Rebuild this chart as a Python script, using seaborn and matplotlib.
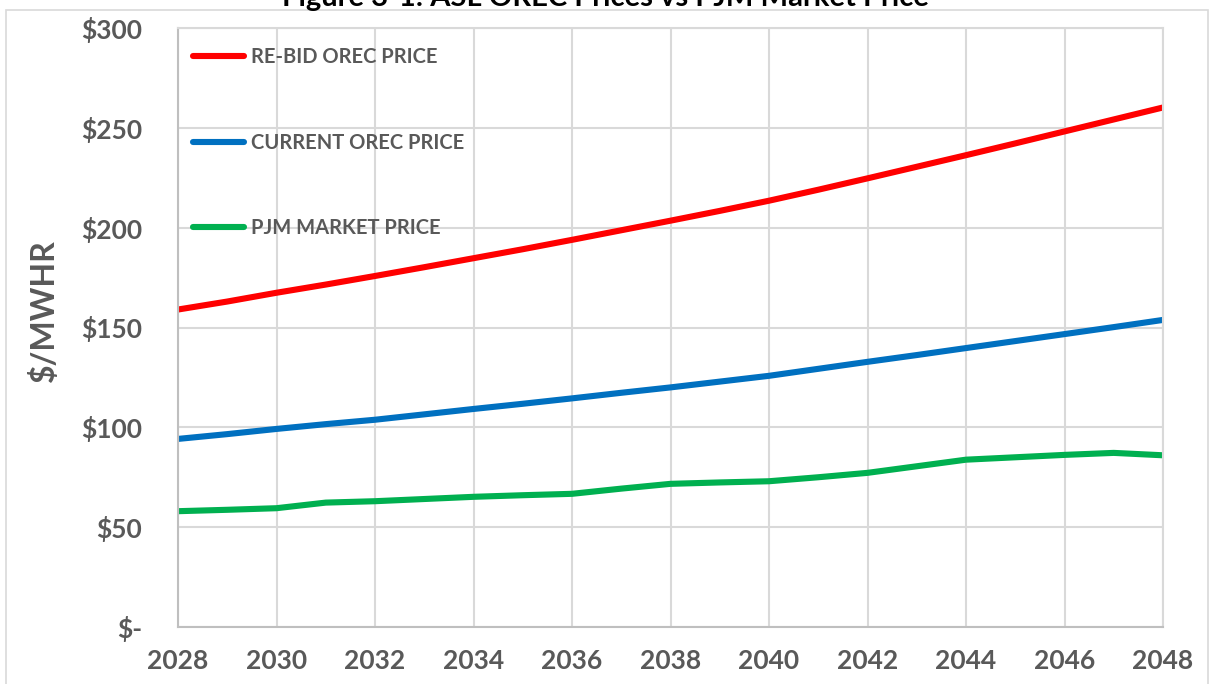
import pandas as pd
import seaborn as sns
import matplotlib.pyplot as plt
from matplotlib.patches import Rectangle

years = list(range(2028, 2049))
rebid = [159.0, 163.0, 167.4, 171.5, 175.8, 180.2, 184.7, 189.2, 193.9, 198.7, 203.5,
         208.4, 213.5, 219.0, 224.7, 230.5, 236.3, 242.2, 248.2, 254.2, 260.2]
current = [94.2, 96.6, 99.2, 101.6, 103.8, 106.5, 109.2, 111.8, 114.5, 117.3, 120.0,
           122.9, 125.8, 129.3, 132.8, 136.2, 139.7, 143.2, 146.7, 150.2, 153.8]
pjm = [58.0, 58.7, 59.5, 62.3, 63.0, 64.1, 65.2, 66.0, 66.7, 69.3, 71.7,
       72.4, 73.0, 75.0, 77.2, 80.5, 83.8, 85.0, 86.2, 87.2, 86.0]
series_names = ["RE-BID OREC PRICE", "CURRENT OREC PRICE", "PJM MARKET PRICE"]
series_colors = ["#FF0000", "#0070C0", "#00B050"]

df = pd.DataFrame({"Year": years, series_names[0]: rebid,
                   series_names[1]: current, series_names[2]: pjm})
long = df.melt(id_vars="Year", var_name="Series", value_name="Price")

sns.set_style("white")
plt.rcParams['font.family'] = ['Lato', 'DejaVu Sans']
txt = "#595959"

fig = plt.figure(figsize=(12.12, 6.84), dpi=100)
ax = fig.add_axes([178/1212, 1-627/684, (1163-178)/1212, (627-28)/684])

# outer chart frame like Excel
fig.patches.append(Rectangle((6/1212, -0.05), 1202/1212, 1.05 - 10/684,
                             transform=fig.transFigure, fill=False,
                             edgecolor="#d9d9d9", linewidth=1.2))

sns.lineplot(data=long, x="Year", y="Price", hue="Series", hue_order=series_names,
             palette=series_colors, linewidth=4.4, ax=ax, solid_capstyle='butt')

ax.set_xlim(2028, 2048)
ax.set_ylim(0, 300)
ax.set_xticks(range(2028, 2049, 2))
ax.set_yticks(range(0, 301, 50))
ax.set_yticklabels(["$-"] + [f"${v}" for v in range(50, 301, 50)])
ax.grid(True, color="#d9d9d9", linewidth=1.5)
ax.set_axisbelow(True)
for s in ax.spines.values():
    s.set_color("#d9d9d9")
    s.set_linewidth(1.5)
ax.spines['left'].set_color("#bfbfbf")
ax.spines['bottom'].set_color("#bfbfbf")
ax.tick_params(axis='both', length=0, labelsize=19, labelcolor=txt)
ax.tick_params(axis='y', pad=26)
ax.tick_params(axis='x', pad=16)
for lab in ax.get_xticklabels() + ax.get_yticklabels():
    lab.set_fontweight('bold')

ax.set_xlabel("")
ax.set_ylabel("")
fig.text(44/1212, 1-311/684, "$/MWHR", rotation=90, ha='center', va='center',
         fontsize=23, fontweight='bold', color=txt)

fig.text(605/1212, 1-6/684, "Figure 3-1: ASL OREC Prices vs PJM Market Price",
         ha='center', va='baseline', fontsize=21, fontweight='bold', color='black')

handles, labels = ax.get_legend_handles_labels()
leg = ax.legend(handles, labels, loc='upper left', bbox_to_anchor=(0.007, 0.981),
                frameon=False, fontsize=14.5, labelspacing=3.25, handlelength=2.55,
                handletextpad=0.35, borderaxespad=0)
for t in leg.get_texts():
    t.set_color(txt)
    t.set_fontweight('bold')
for h in leg.get_lines():
    h.set_linewidth(4.4)
    h.set_solid_capstyle('round')

fig.savefig("out.png", dpi=100)
